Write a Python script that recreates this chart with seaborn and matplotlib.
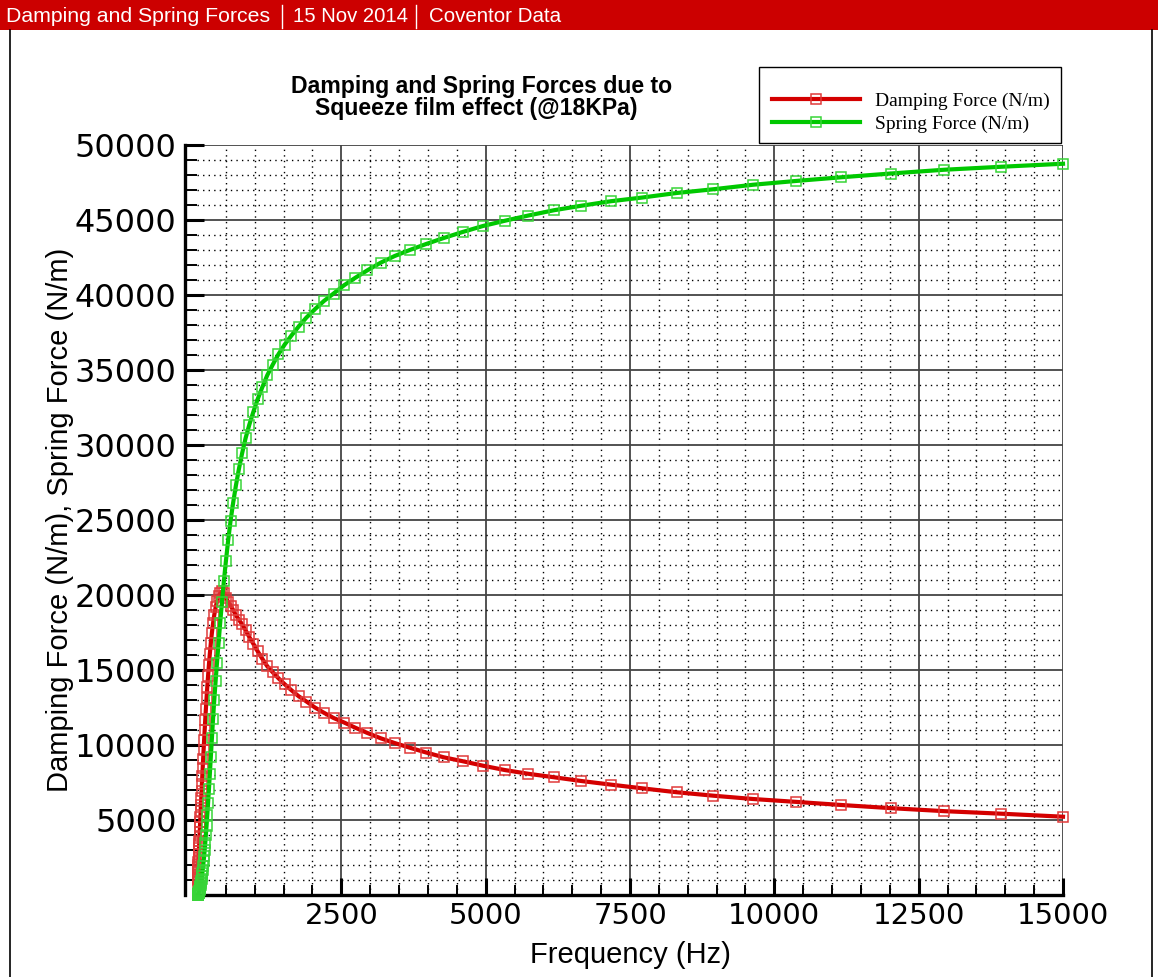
import matplotlib
matplotlib.use("Agg")
import matplotlib.pyplot as plt
from matplotlib.patches import Rectangle
from matplotlib.lines import Line2D
from matplotlib.ticker import FixedLocator
import seaborn as sns

# Frequency sweep (Hz), logarithmic steps from 10 Hz to 15 kHz
freq_hz = [
    10.00, 10.77, 11.59, 12.48, 13.44, 14.47, 15.58, 16.77, 18.06, 19.44,
    20.93, 22.54, 24.27, 26.13, 28.13, 30.29, 32.61, 35.11, 37.80, 40.70,
    43.82, 47.18, 50.80, 54.69, 58.89, 63.40, 68.26, 73.50, 79.13, 85.20,
    91.72, 98.75, 106.3, 114.5, 123.3, 132.7, 142.9, 153.8, 165.6, 178.3,
    192.0, 206.7, 222.6, 239.6, 258.0, 277.8, 299.1, 322.0, 346.7, 373.3,
    401.9, 432.7, 465.9, 501.6, 540.1, 581.5, 626.1, 674.1, 725.8, 781.4,
    841.3, 905.8, 975.2, 1050, 1131, 1217, 1311, 1411, 1519, 1636,
    1761, 1896, 2042, 2198, 2366, 2548, 2743, 2953, 3180, 3424,
    3686, 3969, 4273, 4600, 4953, 5333, 5741, 6182, 6656, 7166,
    7716, 8307, 8944, 9630, 10368, 11163, 12019, 12941, 13933, 15000,
]

# Damping force (N/m)
damping_force = [
    900, 969, 1043, 1123, 1209, 1301, 1400, 1507, 1623, 1747,
    1880, 2024, 2178, 2344, 2522, 2714, 2920, 3141, 3378, 3633,
    3907, 4200, 4515, 4851, 5211, 5595, 6004, 6440, 6911, 7409,
    7926, 8479, 9061, 9679, 10322, 10987, 11683, 12394, 13127, 13870,
    14619, 15362, 16096, 16801, 17476, 18103, 18671, 19167, 19580, 19901,
    20121, 20234, 20150, 19800, 19550, 19300, 19000, 18650, 18350, 18050,
    17650, 17200, 16750, 16250, 15750, 15250, 14850, 14450, 14050, 13650,
    13250, 12900, 12500, 12150, 11800, 11500, 11150, 10800, 10450, 10130,
    9820, 9500, 9180, 8920, 8620, 8330, 8080, 7850, 7600, 7360,
    7110, 6850, 6620, 6400, 6210, 6000, 5790, 5590, 5420, 5220,
]

# Spring force (N/m)
spring_force = [
    17, 20, 23, 27, 31, 36, 42, 48, 56, 65,
    75, 87, 101, 117, 136, 157, 182, 211, 245, 284,
    329, 381, 442, 512, 594, 688, 798, 924, 1071, 1242,
    1439, 1668, 1932, 2237, 2591, 2997, 3468, 4009, 4630, 5339,
    6145, 7054, 8077, 9207, 10450, 11750, 13000, 14250, 15500, 16800,
    18150, 19550, 20950, 22300, 23650, 24950, 26150, 27300, 28400, 29450,
    30450, 31350, 32200, 33050, 33850, 34650, 35350, 36050, 36700, 37300,
    37900, 38500, 39050, 39600, 40100, 40650, 41150, 41650, 42150, 42600,
    43000, 43400, 43800, 44200, 44600, 44950, 45300, 45650, 45950, 46250,
    46500, 46800, 47050, 47350, 47600, 47850, 48100, 48350, 48550, 48750,
]

x_major = [2500, 5000, 7500, 10000, 12500, 15000]
y_major = [5000, 10000, 15000, 20000, 25000, 30000, 35000, 40000, 45000, 50000]
x_minor = [v for v in range(500, 15000, 500) if v % 2500]
y_minor = [v for v in range(1000, 50000, 1000) if v % 5000]

series_labels = ["Damping Force (N/m)", "Spring Force (N/m)"]
header_items = ["Damping and Spring Forces", "15 Nov 2014", "Coventor Data"]
title_lines = ["Damping and Spring Forces due to", "Squeeze film effect (@18KPa)"]

RED = "#D40000"
RED_MARK = "#E03A3A"
GREEN = "#00C800"
GREEN_MARK = "#38D438"
SANS = "Liberation Sans"
SERIF = "Liberation Serif"
TICK_FONT = "DejaVu Sans"

W, H = 1158, 977
fig = plt.figure(figsize=(W / 100, H / 100), dpi=100)
fig.patch.set_facecolor("white")


def fx(px):
    return px / W


def fy(py):
    return 1 - py / H


# header bar
fig.patches.append(Rectangle((0, fy(30)), 1, 30 / H, transform=fig.transFigure,
                             facecolor="#CC0000", edgecolor="none", zorder=0))
for txt, xpos, size in zip(header_items, [6, 293, 429], [15.3, 14.6, 14.8]):
    fig.text(fx(xpos), fy(17), txt, color="white", fontsize=size, family=SANS,
             ha="left", va="center")
for xpos in [282, 416]:
    fig.add_artist(Line2D([fx(xpos), fx(xpos)], [fy(5), fy(28)], color="white",
                          lw=1.0, transform=fig.transFigure))

# page frame
fig.add_artist(Line2D([fx(10), fx(10)], [fy(30), 0], color="black", lw=1.2,
                      transform=fig.transFigure))
fig.add_artist(Line2D([fx(1152), fx(1152)], [fy(30), 0], color="black", lw=1.2,
                      transform=fig.transFigure))

# plot area
ax = fig.add_axes([fx(197), 82 / H, 866 / W, 750 / H])
ax.set_facecolor("white")

sns.lineplot(x=freq_hz, y=damping_force, ax=ax, color=RED, linewidth=3,
             marker="s", markersize=6.5, markerfacecolor="none",
             markeredgecolor=RED_MARK, markeredgewidth=1.1, estimator=None,
             sort=False, clip_on=False, zorder=5, label=series_labels[0])
sns.lineplot(x=freq_hz, y=spring_force, ax=ax, color=GREEN, linewidth=3,
             marker="s", markersize=6.5, markerfacecolor="none",
             markeredgecolor=GREEN_MARK, markeredgewidth=1.1, estimator=None,
             sort=False, clip_on=False, zorder=6, label=series_labels[1])

ax.set_xlim(0, 15000)
ax.set_ylim(0, 50000)
ax.xaxis.set_major_locator(FixedLocator(x_major))
ax.yaxis.set_major_locator(FixedLocator(y_major))
ax.xaxis.set_minor_locator(FixedLocator(x_minor))
ax.yaxis.set_minor_locator(FixedLocator(y_minor))
ax.set_xticklabels([str(v) for v in x_major])
ax.set_yticklabels([str(v) for v in y_major])

ax.grid(which="major", color="#444444", linewidth=1.3, linestyle="-", zorder=1)
ax.grid(which="minor", color="black", linewidth=1.0, linestyle=(0, (1, 3)), zorder=1)
ax.set_axisbelow(True)

for side in ["top", "right"]:
    ax.spines[side].set_visible(False)
ax.spines["left"].set_position(("outward", 8.6))
ax.spines["left"].set_linewidth(2.4)
ax.spines["bottom"].set_linewidth(2.4)

ax.tick_params(axis="both", which="both", direction="in", colors="black")
ax.tick_params(axis="y", which="major", length=14, width=2.2, pad=6)
ax.tick_params(axis="y", which="minor", length=8.6, width=1.4)
ax.tick_params(axis="x", which="major", length=12, width=2.2, pad=5)
ax.tick_params(axis="x", which="minor", length=7.2, width=1.4)
for lab in ax.get_yticklabels():
    lab.set_fontsize(23)
    lab.set_family(TICK_FONT)
for lab in ax.get_xticklabels():
    lab.set_fontsize(21)
    lab.set_family(TICK_FONT)

ax.set_xlabel("Frequency (Hz)", fontsize=21, family=SANS)
ax.set_ylabel("Damping Force (N/m), Spring Force (N/m)", fontsize=21, family=SANS)
ax.xaxis.label.set_va("center")
ax.yaxis.label.set_va("center")
ax.xaxis.set_label_coords(0.5, (895 - 955) / 750)
ax.yaxis.set_label_coords((60 - 197) / 866, 0.5)

# title
fig.text(fx(482), fy(86), title_lines[0], ha="center", va="center",
         fontsize=16.6, fontweight="bold", family=SANS)
fig.text(fx(476), fy(109), title_lines[1], ha="center", va="center",
         fontsize=16.6, fontweight="bold", family=SANS)

# legend drawn at figure level on top of its own box
handles, labels = ax.get_legend_handles_labels()
if ax.get_legend() is not None:
    ax.get_legend().remove()
fig.patches.append(Rectangle((fx(759), fy(143)), (1061 - 759) / W, (143 - 67) / H,
                             transform=fig.transFigure, facecolor="white",
                             edgecolor="black", linewidth=1.0, zorder=3))
leg = fig.legend(handles[:2], labels[:2], loc="upper left",
                 bbox_to_anchor=(fx(772), fy(92)), frameon=False, borderpad=0,
                 borderaxespad=0, handlelength=4.5, handletextpad=0.8,
                 labelspacing=0.3, prop={"family": SERIF, "size": 14})
leg.set_zorder(10)

fig.savefig("out.png", dpi=100, facecolor="white")
